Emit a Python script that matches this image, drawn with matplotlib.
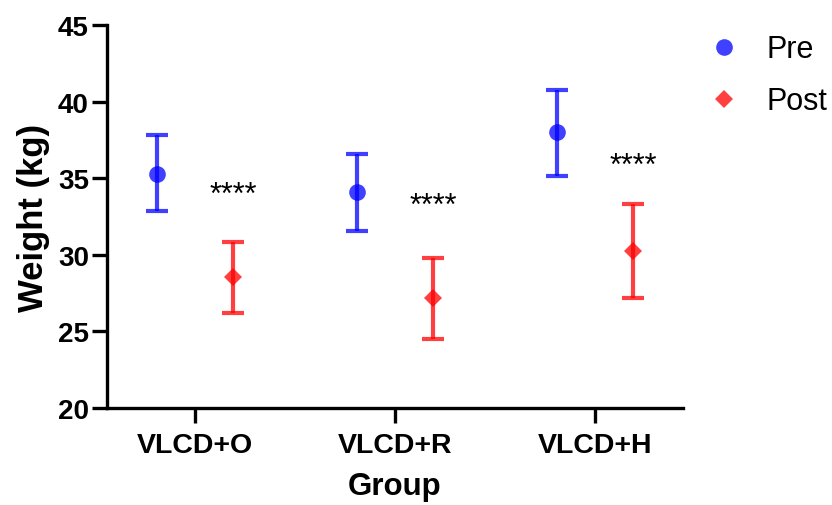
import matplotlib
matplotlib.use("Agg")
import matplotlib.pyplot as plt
from matplotlib.lines import Line2D
import numpy as np

plt.rcParams['font.family'] = ['Liberation Sans', 'DejaVu Sans']

groups = ["VLCD+O", "VLCD+R", "VLCD+H"]
pre_mean = [35.3, 34.1, 38.0]
pre_upper = [37.85, 36.6, 40.75]
pre_lower = [32.85, 31.55, 35.15]
post_mean = [28.55, 27.15, 30.25]
post_upper = [30.85, 29.8, 33.3]
post_lower = [26.2, 24.5, 27.15]
star_y = [33.9, 33.2, 35.8]
star_text = "****"

fig = plt.figure(figsize=(8.32, 5.06), dpi=100)
ax = fig.add_axes([0.1286, 0.1917, 0.6923, 0.7569])

x = np.arange(len(groups))
off = 0.19
blue = (0.0, 0.0, 1.0, 0.75)
red = (1.0, 0.0, 0.0, 0.75)

pre_err = [np.array(pre_mean) - np.array(pre_lower), np.array(pre_upper) - np.array(pre_mean)]
post_err = [np.array(post_mean) - np.array(post_lower), np.array(post_upper) - np.array(post_mean)]

ax.errorbar(x - off, pre_mean, yerr=pre_err, fmt='none', ecolor=blue,
            elinewidth=3, capsize=8, capthick=3)
ax.errorbar(x + off, post_mean, yerr=post_err, fmt='none', ecolor=red,
            elinewidth=3, capsize=8, capthick=3)
ax.plot(x - off, pre_mean, 'o', color=blue, markersize=12, markeredgewidth=0, zorder=3)
ax.plot(x + off, post_mean, 'D', color=red, markersize=9.5, markeredgewidth=0, zorder=3)

for xi, yi in zip(x, star_y):
    ax.text(xi + off, yi, star_text, ha='center', va='center', fontsize=22)

ax.set_xlim(-0.44, 2.44)
ax.set_ylim(20, 45)
ax.set_yticks([20, 25, 30, 35, 40, 45])
ax.set_xticks(x)
ax.set_xticklabels(groups, fontsize=20.5, fontweight='bold')
for lbl in ax.get_yticklabels():
    lbl.set_fontsize(20)
    lbl.set_fontweight('bold')

for s in ['top', 'right']:
    ax.spines[s].set_visible(False)
for s in ['left', 'bottom']:
    ax.spines[s].set_linewidth(2.4)
ax.tick_params(axis='both', width=2.4, length=11, color='black')
ax.tick_params(axis='y', pad=2)
ax.tick_params(axis='x', pad=6)

ax.set_ylabel("Weight (kg)", fontsize=25, fontweight='bold', labelpad=6)
ax.set_xlabel("Group", fontsize=22.5, fontweight='bold', labelpad=10)

h1 = Line2D([], [], marker='o', linestyle='none', color=blue, markersize=12, markeredgewidth=0)
h2 = Line2D([], [], marker='D', linestyle='none', color=red, markersize=9, markeredgewidth=0)
fig.legend([h1, h2], ["Pre", "Post"], loc='upper left', bbox_to_anchor=(0.852, 0.93),
           frameon=False, fontsize=22, handletextpad=0.9, labelspacing=0.72, handlelength=1.0,
           borderaxespad=0, borderpad=0)

fig.savefig("out.png", dpi=100)
